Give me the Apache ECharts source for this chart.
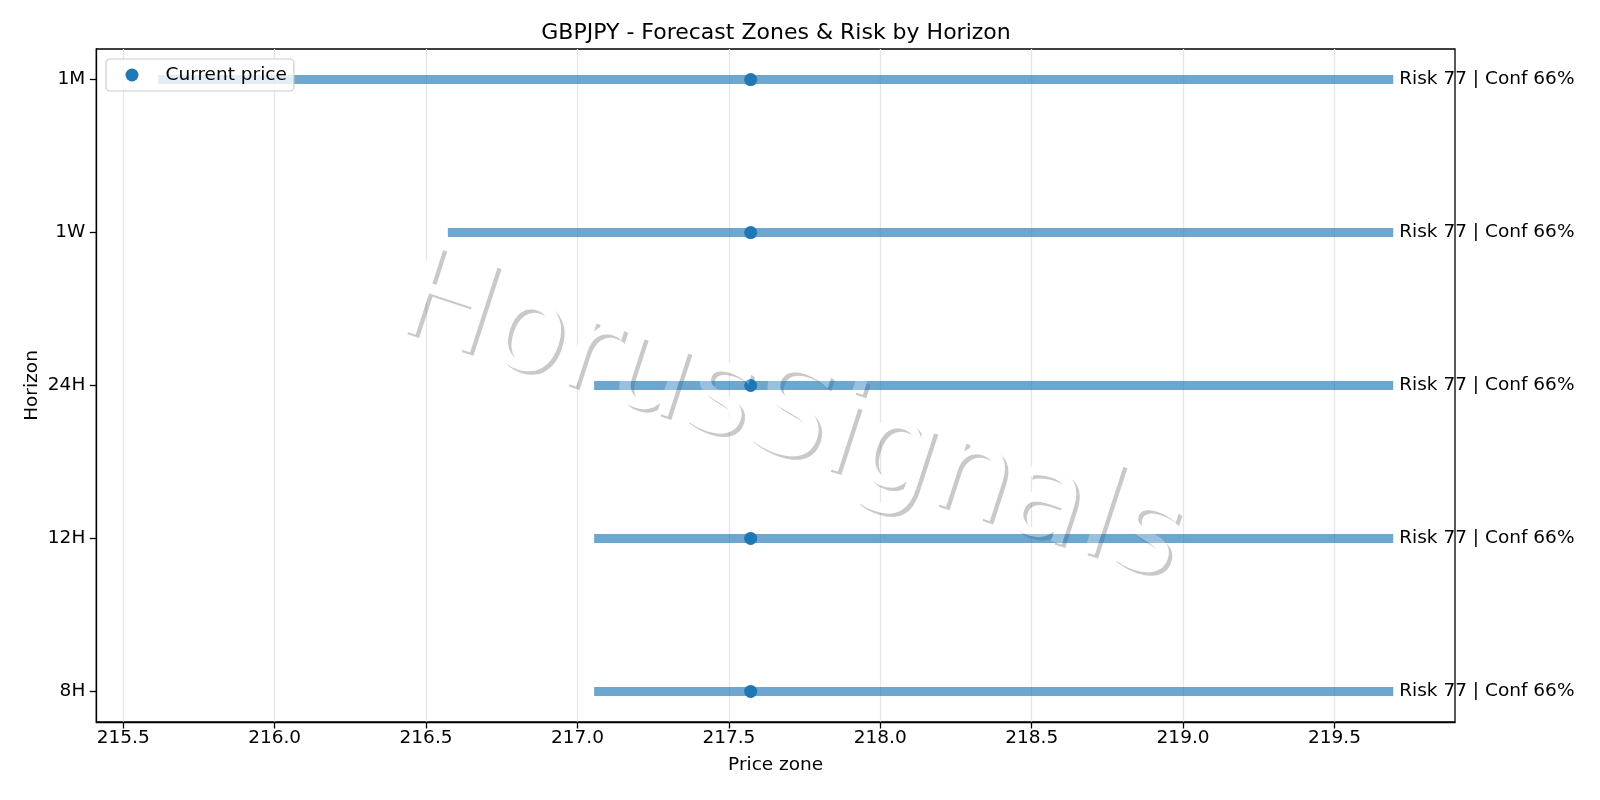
<!DOCTYPE html>
<html>
<head>
<meta charset="utf-8">
<title>GBPJPY - Forecast Zones & Risk by Horizon</title>
<script src="https://cdn.jsdelivr.net/npm/echarts@6.0.0/dist/echarts.min.js"></script>
<style>
html, body {margin: 0; padding: 0; background: #fff;}
#chart {width: 1600px; height: 800px;}
</style>
</head>
<body>
<div id="chart"></div>
<script>
// horizons bottom -> top
var horizons = ["8H", "12H", "24H", "1W", "1M"];
var zoneLow = [217.055, 217.055, 217.055, 216.572, 215.615];
var zoneHigh = [219.694, 219.694, 219.694, 219.694, 219.694];
var currentPrice = [217.572, 217.572, 217.572, 217.572, 217.572];
var risk = [77, 77, 77, 77, 77];
var conf = [66, 66, 66, 66, 66];
var priceTicks = [215.5, 216.0, 216.5, 217.0, 217.5, 218.0, 218.5, 219.0, 219.5];
var horizonTicks = [0, 1, 2, 3, 4];

var font = "DejaVu Sans";
var zones = horizons.map(function (h, i) { return [zoneLow[i], zoneHigh[i], i]; });
var prices = horizons.map(function (h, i) { return [currentPrice[i], i]; });

var myChart = echarts.init(document.getElementById("chart"));

// watermark
var wmX = 790, wmY = 422, wmRot = -18 * Math.PI / 180;
var wmStyle = {text: "HorusSignals", fontSize: 125, fontFamily: font, align: "center", verticalAlign: "middle"};
function wm(dx, dy, fill, z) {
	return {
		type: "text", x: wmX + dx, y: wmY + dy, rotation: wmRot, z: z, silent: true,
		style: Object.assign({}, wmStyle, {fill: fill})
	};
}

var option = {
	backgroundColor: "#fff",
	animation: false,
	title: {
		text: "GBPJPY - Forecast Zones & Risk by Horizon",
		left: 771, top: 17, textAlign: "center",
		textStyle: {fontFamily: font, fontSize: 22, fontWeight: "normal", color: "#000"}
	},
	legend: {
		data: ["Current price"],
		left: 106, top: 59,
		icon: "circle", itemWidth: 13, itemHeight: 13,
		padding: [6, 7, 6, 19.5],
		backgroundColor: "rgba(255,255,255,0.8)",
		borderColor: "#cccccc", borderWidth: 1.2, borderRadius: 4,
		selectedMode: false,
		textStyle: {fontFamily: font, fontSize: 18.5, color: "#000", lineHeight: 20, padding: [0, 0, 0, 22]}
	},
	grid: {
		left: 96.3, right: 145, top: 49, bottom: 78,
		show: true, borderColor: "#000", borderWidth: 1.3,
		outerBoundsMode: "none"
	},
	xAxis: {
		type: "value",
		min: 215.411, max: 219.898,
		name: "Price zone", nameLocation: "middle", nameGap: 34,
		nameTextStyle: {fontFamily: font, fontSize: 18.5, color: "#000"},
		axisLine: {show: true, onZero: false, lineStyle: {color: "#000", width: 1.3}},
		axisTick: {show: true, length: 6.5, customValues: priceTicks, lineStyle: {color: "#000", width: 1.3}},
		axisLabel: {
			customValues: priceTicks, margin: 7,
			fontFamily: font, fontSize: 18.5, color: "#000",
			formatter: function (v) { return v.toFixed(1); }
		},
		splitLine: {show: true, lineStyle: {color: "#e6e6e6", width: 1.3}}
	},
	yAxis: {
		type: "value",
		min: -0.2, max: 4.2,
		name: "Horizon", nameLocation: "middle", nameGap: 55, nameMoveOverlap: false,
		nameTextStyle: {fontFamily: font, fontSize: 18.5, color: "#000"},
		axisLine: {show: true, onZero: false, lineStyle: {color: "#000", width: 1.3}},
		axisTick: {show: true, length: 6.5, customValues: horizonTicks, lineStyle: {color: "#000", width: 1.3}},
		axisLabel: {
			customValues: horizonTicks, margin: 11,
			fontFamily: font, fontSize: 18.5, color: "#000",
			formatter: function (v) { return horizons[Math.round(v)]; }
		},
		splitLine: {show: false}
	},
	graphic: [
		wm(3.5, 3.5, "rgba(77,77,77,0.3)", 1),
		wm(0, 0, "#ffffff", 1),
		wm(0, 0, "rgba(255,255,255,0.3)", 10)
	],
	series: [{
		name: "Zone",
		type: "custom",
		z: 2,
		encode: {x: [0, 1], y: 2},
		data: zones,
		renderItem: function (params, api) {
			var i = params.dataIndex;
			var p0 = api.coord([api.value(0), api.value(2)]);
			var p1 = api.coord([api.value(1), api.value(2)]);
			return {
				type: "group",
				children: [{
					type: "line",
					shape: {x1: p0[0], y1: p0[1], x2: p1[0], y2: p1[1]},
					style: {stroke: "rgba(31,119,180,0.65)", lineWidth: 9, lineCap: "butt"}
				}, {
					type: "text",
					x: p1[0] + 6, y: p1[1],
					style: {
						text: "Risk " + risk[i] + " | Conf " + conf[i] + "%",
						fontFamily: font, fontSize: 18.5, fill: "#000",
						align: "left", verticalAlign: "middle"
					}
				}]
			};
		}
	}, {
		name: "Current price",
		type: "scatter",
		z: 3,
		symbol: "circle",
		symbolSize: 13,
		itemStyle: {color: "#1f77b4", opacity: 1},
		data: prices
	}]
};
myChart.setOption(option);
</script>
</body>
</html>
